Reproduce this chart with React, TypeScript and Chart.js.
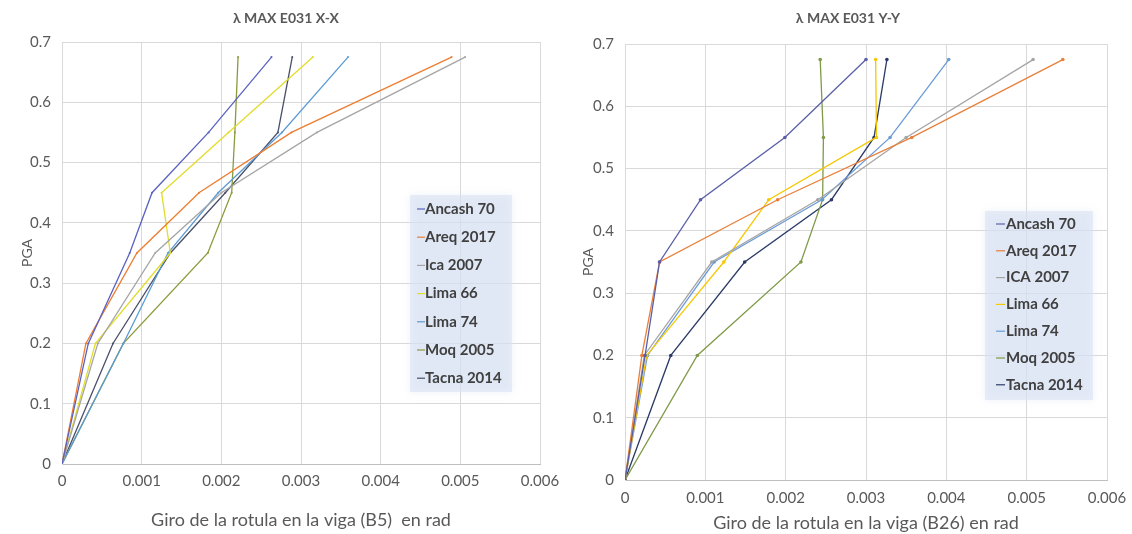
import React, { useEffect, useRef } from 'react';
import { Chart, registerables } from 'chart.js';

Chart.register(...registerables);

// ---------- DATA ----------
const pgaLevels = [0, 0.2, 0.35, 0.45, 0.55, 0.675];

const xTickLabels = ['0', '0.001', '0.002', '0.003', '0.004', '0.005', '0.006'];
const yTickLabels = ['0', '0.1', '0.2', '0.3', '0.4', '0.5', '0.6', '0.7'];

const namesXX = ['Ancash 70', 'Areq 2017', 'Ica 2007', 'Lima 66', 'Lima 74', 'Moq 2005', 'Tacna 2014'];
const namesYY = ['Ancash 70', 'Areq 2017', 'ICA 2007', 'Lima 66', 'Lima 74', 'Moq 2005', 'Tacna 2014'];

// X-X (B5) rotations, rad
const ancashXX = [0, 0.00033, 0.00085, 0.00113, 0.00184, 0.00263];
const areqXX = [0, 0.0003, 0.00094, 0.00172, 0.00288, 0.00489];
const icaXX = [0, 0.00045, 0.00117, 0.002, 0.0032, 0.00506];
const lima66XX = [0, 0.00042, 0.00136, 0.00125, 0.00209, 0.00315];
const lima74XX = [0, 0.00077, 0.00133, 0.00196, 0.00276, 0.00359];
const moqXX = [0, 0.00077, 0.00183, 0.00213, 0.00217, 0.00221];
const tacnaXX = [0, 0.00064, 0.00136, 0.00205, 0.00271, 0.00289];

// Y-Y (B26) rotations, rad
const ancashYY = [0, 0.00025, 0.00043, 0.00094, 0.00199, 0.003];
const areqYY = [0, 0.00021, 0.00043, 0.0019, 0.00357, 0.00545];
const icaYY = [0, 0.00024, 0.00108, 0.0024, 0.0035, 0.00508];
const lima66YY = [0, 0.00027, 0.00123, 0.00179, 0.00313, 0.00312];
const lima74YY = [0, 0.00028, 0.00111, 0.00245, 0.0033, 0.00403];
const moqYY = [0, 0.0009, 0.00219, 0.00246, 0.00247, 0.00243];
const tacnaYY = [0, 0.00057, 0.00149, 0.00257, 0.0031, 0.00326];

const seriesXX = [ancashXX, areqXX, icaXX, lima66XX, lima74XX, moqXX, tacnaXX];
const seriesYY = [ancashYY, areqYY, icaYY, lima66YY, lima74YY, moqYY, tacnaYY];

// ---------- STYLE ----------
const colorsXX = ['#5A62C0', '#ED7D31', '#A5A5A5', '#E2DC2A', '#5B9BD5', '#8A9A3C', '#4A5068'];
const colorsYY = ['#5A5FA8', '#E8803A', '#A5A5A5', '#F5C800', '#6A9BD8', '#7F9A48', '#2B3A67'];

const FONT = 'Lato, "Open Sans", sans-serif';

const titlePlugin = {
  id: 'customTitle',
  afterDraw(chart: any, _args: any, opts: any) {
    const ctx = chart.ctx;
    ctx.save();
    ctx.font = `bold ${opts.size}px ${FONT}`;
    ctx.fillStyle = '#595959';
    ctx.textAlign = 'center';
    ctx.textBaseline = 'middle';
    ctx.fillText(opts.text, opts.x, opts.y);
    ctx.restore();
  },
};

const legendPlugin = {
  id: 'insideLegend',
  afterDraw(chart: any, _args: any, opts: any) {
    const ctx = chart.ctx;
    ctx.save();
    ctx.fillStyle = 'rgba(214,224,242,0.5)';
    ctx.shadowColor = 'rgba(214,224,242,0.9)';
    ctx.shadowBlur = 8;
    ctx.fillRect(opts.x, opts.y, opts.w, opts.h);
    ctx.shadowBlur = 0;
    ctx.font = `bold ${opts.size}px ${FONT}`;
    ctx.textBaseline = 'middle';
    ctx.textAlign = 'left';
    chart.data.datasets.forEach((ds: any, i: number) => {
      const cy = opts.y + opts.first + i * opts.row;
      ctx.strokeStyle = ds.borderColor;
      ctx.lineWidth = 1.2;
      ctx.beginPath();
      ctx.moveTo(opts.markX, cy);
      ctx.lineTo(opts.markX + opts.markW, cy);
      ctx.stroke();
      ctx.fillStyle = '#404040';
      ctx.fillText(ds.label, opts.textX, cy);
    });
    ctx.restore();
  },
};

type PanelProps = {
  width: number;
  names: string[];
  series: number[][];
  colors: string[];
  title: any;
  legend: any;
  xTitle: string;
  yAxisWidth: number;
  xAxisHeight: number;
  padTop: number;
  padRight: number;
  xTickPad: number;
  xTitlePadBottom: number;
  yTitlePad: number;
  pointRadius: number;
};

function Panel(p: PanelProps) {
  const ref = useRef<HTMLCanvasElement | null>(null);
  useEffect(() => {
    if (!ref.current) return;
    const datasets = p.series.map((xs, i) => ({
      label: p.names[i],
      data: xs.map((x, j) => ({ x, y: pgaLevels[j] })),
      borderColor: p.colors[i],
      backgroundColor: p.colors[i],
      borderWidth: 1.3,
      pointRadius: p.pointRadius,
      pointBorderWidth: 0,
      showLine: true,
      tension: 0,
    }));
    const chart = new Chart(ref.current, {
      type: 'scatter',
      data: { datasets },
      plugins: [titlePlugin, legendPlugin],
      options: {
        animation: false,
        responsive: false,
        layout: { padding: { left: 0, right: p.padRight, top: p.padTop, bottom: 0 } },
        plugins: {
          legend: { display: false },
          tooltip: { enabled: false },
          customTitle: p.title,
          insideLegend: p.legend,
        } as any,
        scales: {
          x: {
            type: 'linear',
            min: 0,
            max: 0.006,
            ticks: {
              stepSize: 0.001,
              padding: p.xTickPad,
              color: '#595959',
              font: { family: FONT, size: 15 },
              callback: (_v: any, i: number) => xTickLabels[i],
            },
            grid: { color: '#D9D9D9', drawTicks: false },
            border: { color: '#BFBFBF' },
            title: {
              display: true,
              text: p.xTitle,
              color: '#595959',
              font: { family: FONT, size: 18 },
              padding: { top: 0, bottom: p.xTitlePadBottom },
            },
            afterFit: (s: any) => {
              s.height = p.xAxisHeight;
              s.paddingLeft = 0;
              s.paddingRight = 0;
            },
          },
          y: {
            type: 'linear',
            min: 0,
            max: 0.7,
            ticks: {
              stepSize: 0.1,
              padding: 11,
              color: '#595959',
              font: { family: FONT, size: 15 },
              callback: (_v: any, i: number) => yTickLabels[i],
            },
            grid: { color: '#D9D9D9', drawTicks: false },
            border: { color: '#D9D9D9' },
            title: {
              display: true,
              text: 'PGA',
              color: '#595959',
              font: { family: FONT, size: 14 },
              padding: { top: p.yTitlePad, bottom: 0 },
            },
            afterFit: (s: any) => {
              s.width = p.yAxisWidth;
              s.paddingTop = 0;
              s.paddingBottom = 0;
            },
          },
        },
      } as any,
    });
    return () => chart.destroy();
  }, []);
  return <canvas ref={ref} width={p.width} height={534} style={{ display: 'block', width: p.width, height: 534 }} />;
}

export default function App() {
  return (
    <div style={{ position: 'absolute', left: 0, top: 0, width: 1132, height: 534, background: '#fff' }}>
      <div style={{ position: 'absolute', left: 0, top: 0 }}>
        <Panel
          width={562}
          names={namesXX}
          series={seriesXX}
          colors={colorsXX}
          title={{ text: 'λ MAX E031 X-X', x: 286, y: 18, size: 14 }}
          legend={{ x: 410, y: 195, w: 102, h: 197, first: 14, row: 28.2, markX: 417, markW: 8, textX: 425, size: 15 }}
          xTitle="Giro de la rotula en la viga (B5)  en rad"
          yAxisWidth={62}
          xAxisHeight={70}
          padTop={42}
          padRight={22}
          xTickPad={8}
          xTitlePadBottom={3}
          yTitlePad={19}
          pointRadius={1}
        />
      </div>
      <div style={{ position: 'absolute', left: 567, top: 0 }}>
        <Panel
          width={565}
          names={namesYY}
          series={seriesYY}
          colors={colorsYY}
          title={{ text: 'λ MAX E031 Y-Y', x: 281, y: 18, size: 14 }}
          legend={{ x: 418, y: 211, w: 108, h: 189, first: 13, row: 26.8, markX: 429, markW: 9, textX: 439, size: 15 }}
          xTitle="Giro de la rotula en la viga (B26) en rad"
          yAxisWidth={58}
          xAxisHeight={54}
          padTop={44}
          padRight={25}
          xTickPad={9}
          xTitlePadBottom={0}
          yTitlePad={13}
          pointRadius={1.8}
        />
      </div>
    </div>
  );
}
